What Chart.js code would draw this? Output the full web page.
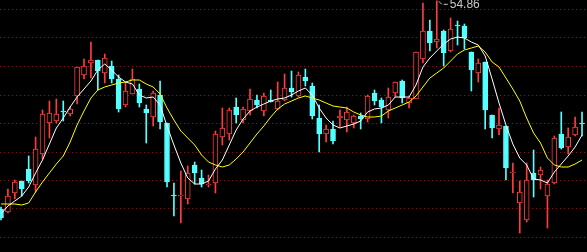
<!DOCTYPE html>
<html>
<head>
<meta charset="utf-8">
<script src="https://cdn.jsdelivr.net/npm/chart.js@4/dist/chart.umd.min.js"></script>
<style>
  html, body { margin: 0; padding: 0; background: #000; overflow: hidden; }
  canvas { display: block; }
</style>
</head>
<body>
<canvas id="kline" width="587" height="252"></canvas>
<script>
// Données K-line (prix)
const openPrices = [
  44.45, 44.30, 45.25, 45.85, 46.45, 45.65, 47.20, 48.75, 48.85, 49.35,
  49.20, 50.10, 51.15, 51.75, 51.90, 51.25, 51.60, 50.95, 49.65, 50.20,
  50.45, 49.45, 49.05, 50.15, 48.75, 45.15, 45.10, 44.95, 46.65, 46.00,
  45.65, 45.75, 48.05, 48.20, 49.55, 48.90, 49.35, 49.90, 49.35, 49.90,
  49.45, 49.90, 50.50, 50.10, 51.05, 50.60, 49.00, 48.20, 48.45, 49.00,
  48.90, 48.75, 49.10, 48.95, 50.25, 49.90, 49.40, 50.25, 50.85, 49.75,
  49.95, 51.95, 53.35, 52.80, 53.35, 52.35, 53.65, 53.60, 52.30, 51.25,
  51.80, 49.15, 48.45, 48.60, 46.25, 44.75, 43.90, 46.25, 46.15, 45.10,
  45.75, 48.20, 47.55, 48.15, 48.75
];
const closePrices = [
  44.00, 45.10, 45.80, 45.45, 45.85, 47.45, 49.20, 49.25, 49.20, 49.30,
  49.45, 51.55, 51.60, 51.90, 51.35, 52.00, 50.95, 49.45, 50.35, 50.95,
  49.75, 49.25, 50.25, 48.80, 45.80, 45.10, 45.15, 46.25, 46.25, 45.70,
  45.70, 48.20, 48.50, 49.40, 49.15, 49.45, 49.95, 49.65, 50.10, 49.80,
  49.85, 50.50, 50.30, 51.15, 50.85, 49.10, 48.20, 48.45, 47.85, 49.10,
  49.30, 49.10, 48.95, 50.10, 49.85, 49.55, 50.05, 50.80, 50.00, 50.00,
  52.30, 53.35, 52.75, 52.95, 52.25, 53.45, 53.60, 53.00, 51.40, 51.75,
  49.40, 48.50, 48.65, 46.50, 46.30, 45.30, 45.90, 45.90, 46.40, 45.70,
  48.00, 47.50, 48.05, 48.55, 48.70
];
const highPrices = [
  44.55, 45.45, 45.90, 45.85, 47.10, 48.05, 49.40, 49.85, 49.95, 49.85,
  49.55, 51.55, 51.95, 52.80, 51.90, 52.20, 51.85, 51.15, 50.80, 51.45,
  50.70, 49.65, 50.35, 50.85, 48.75, 45.75, 46.35, 46.60, 46.80, 46.40,
  46.15, 48.35, 49.50, 49.50, 50.00, 49.55, 50.45, 50.15, 50.25, 50.40,
  50.80, 51.20, 51.35, 51.30, 51.45, 50.75, 49.65, 48.65, 48.85, 49.40,
  49.55, 49.15, 49.25, 50.15, 50.40, 50.00, 50.50, 50.80, 50.90, 50.05,
  52.30, 54.75, 53.90, 54.86, 53.40, 54.00, 53.85, 53.70, 52.30, 51.95,
  51.80, 49.15, 49.50, 48.60, 46.75, 45.85, 46.75, 47.40, 46.55, 45.90,
  48.10, 49.30, 48.50, 49.05, 49.30
];
const lowPrices = [
  43.90, 44.25, 44.95, 45.10, 45.75, 45.30, 46.95, 48.00, 48.75, 48.85,
  49.10, 49.70, 50.95, 51.00, 50.40, 50.75, 50.75, 49.30, 49.55, 50.20,
  49.55, 47.75, 48.60, 48.45, 45.55, 44.10, 43.75, 44.70, 45.70, 45.55,
  45.55, 45.25, 47.65, 47.90, 48.75, 48.75, 49.15, 49.50, 49.10, 49.80,
  49.40, 49.85, 50.05, 50.05, 50.60, 48.95, 47.30, 47.80, 47.70, 48.55,
  48.30, 48.50, 48.45, 48.80, 49.65, 48.75, 49.00, 50.05, 49.75, 49.50,
  49.95, 51.75, 52.35, 52.50, 51.60, 52.30, 52.65, 52.45, 50.35, 50.80,
  48.45, 48.00, 48.15, 45.90, 45.25, 43.25, 43.80, 45.05, 45.45, 43.50,
  45.70, 47.45, 47.20, 48.10, 48.10
];
// Moyennes mobiles (blanche = MA5, jaune = MA10)
const ma5 = [
  44.20, 44.60, 44.85, 45.10, 45.55, 46.25, 46.90, 47.70, 48.50, 49.00,
  49.55, 50.05, 50.45, 50.85, 51.40, 51.70, 51.40, 51.05, 50.80, 50.70,
  50.15, 50.00, 50.05, 49.65, 48.60, 47.65, 46.75, 46.00, 45.70, 45.70,
  45.85, 46.45, 46.90, 47.65, 48.40, 48.95, 49.35, 49.55, 49.70, 49.85,
  49.95, 50.00, 50.15, 50.35, 50.50, 50.15, 49.50, 49.00, 48.65, 48.50,
  48.60, 48.70, 48.85, 49.30, 49.45, 49.50, 49.65, 50.05, 50.05, 50.05,
  50.65, 51.55, 52.00, 52.35, 52.70, 52.95, 53.05, 53.00, 52.80, 52.65,
  52.10, 50.95, 49.75, 48.65, 47.70, 47.00, 46.65, 45.95, 45.90, 45.75,
  46.30, 46.70, 47.10, 47.55, 48.15
];
const ma10 = [
  44.70, 44.70, 44.70, 44.65, 44.75, 45.30, 45.80, 46.25, 46.70, 47.10,
  47.80, 48.65, 49.35, 50.00, 50.40, 50.55, 50.65, 50.75, 50.80, 50.90,
  50.90, 50.70, 50.55, 50.20, 49.50, 48.90, 48.35, 48.00, 47.65, 47.15,
  46.80, 46.65, 46.55, 46.65, 46.95, 47.30, 47.75, 48.20, 48.60, 49.05,
  49.45, 49.70, 49.85, 50.00, 50.10, 50.00, 49.90, 49.75, 49.60, 49.55,
  49.50, 49.30, 49.15, 49.05, 49.05, 49.10, 49.35, 49.50, 49.65, 49.80,
  50.10, 50.55, 51.00, 51.25, 51.50, 51.85, 52.20, 52.40, 52.50, 52.60,
  52.30, 51.80, 51.55, 51.00, 50.45, 49.85, 49.00, 48.25, 47.75, 47.00,
  46.65, 46.55, 46.55, 46.70, 46.90
];
// Lignes horizontales pointillées
const gridValues = [54.425, 53.0, 51.575, 50.15, 48.725, 47.3, 45.875, 44.45, 43.025];

const upColor = '#ff3c3c';
const downColor = '#54ffff';

const idx = openPrices.map((_, i) => i);
const isUp = idx.map(i => closePrices[i] >= openPrices[i]);

// Étiquette du plus haut
const highLabel = {
  id: 'highLabel',
  afterDatasetsDraw(chart) {
    const { ctx, scales: { x, y } } = chart;
    let m = 0;
    highPrices.forEach((v, i) => { if (v > highPrices[m]) m = i; });
    const px = x.getPixelForValue(m);
    const py = y.getPixelForValue(highPrices[m]);
    ctx.save();
    ctx.strokeStyle = '#c8c8c8';
    ctx.lineWidth = 1;
    ctx.beginPath();
    ctx.moveTo(px + 2, py + 0.5);
    ctx.lineTo(px + 5, py + 3.5);
    ctx.moveTo(px + 7, py + 3.5);
    ctx.lineTo(px + 11, py + 3.5);
    ctx.stroke();
    ctx.fillStyle = '#c8c8c8';
    ctx.font = '12px "Liberation Sans", Arial, sans-serif';
    ctx.textBaseline = 'alphabetic';
    ctx.fillText(highPrices[m].toFixed(2), px + 13, py + 7);
    ctx.restore();
  }
};

new Chart(document.getElementById('kline'), {
  type: 'bar',
  data: {
    datasets: [
      {
        type: 'line',
        data: idx.map(i => ({ x: i, y: ma5[i] })),
        borderColor: '#ffffff',
        borderWidth: 1,
        pointRadius: 0,
        tension: 0,
        order: 0
      },
      {
        type: 'line',
        data: idx.map(i => ({ x: i, y: ma10[i] })),
        borderColor: '#ffff00',
        borderWidth: 1,
        pointRadius: 0,
        tension: 0,
        order: 0
      },
      {
        // corps
        data: idx.map(i => ({ x: i, y: [openPrices[i], closePrices[i]] })),
        backgroundColor: idx.map(i => isUp[i] ? '#000000' : downColor),
        borderColor: idx.map(i => isUp[i] ? upColor : downColor),
        borderWidth: 1,
        borderSkipped: false,
        barThickness: 5,
        grouped: false,
        order: 1
      },
      {
        // mèches
        data: idx.map(i => ({ x: i, y: [lowPrices[i], highPrices[i]] })),
        backgroundColor: idx.map(i => isUp[i] ? upColor : downColor),
        borderWidth: 0,
        barThickness: 1,
        grouped: false,
        order: 2
      }
    ]
  },
  options: {
    responsive: false,
    animation: false,
    events: [],
    layout: { padding: 0 },
    plugins: {
      legend: { display: false },
      tooltip: { enabled: false },
      title: { display: false }
    },
    scales: {
      x: {
        type: 'linear',
        min: -0.145,
        max: 84.72,
        offset: false,
        display: false
      },
      y: {
        min: 42.30,
        max: 54.90,
        ticks: { display: false },
        grid: { color: '#b00000', lineWidth: 1, drawTicks: false },
        border: { display: false, dash: [1, 3] },
        afterBuildTicks: scale => {
          scale.ticks = gridValues.map(v => ({ value: v }));
        }
      }
    }
  },
  plugins: [highLabel]
});
</script>
</body>
</html>
